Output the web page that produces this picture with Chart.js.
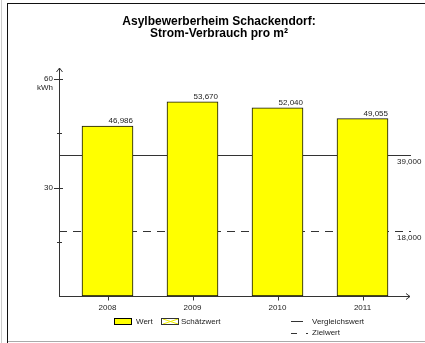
<!DOCTYPE html>
<html><head><meta charset="utf-8">
<script src="https://cdn.jsdelivr.net/npm/chart.js@4/dist/chart.umd.min.js"></script>
<style>html,body{margin:0;padding:0;background:#fff;}#wrap{position:relative;width:425px;height:343px;}</style>
</head><body><div id="wrap"><canvas id="c" width="425" height="343"></canvas></div>
<script>
const categories = ["2008", "2009", "2010", "2011"];
const values = [46.986, 53.670, 52.040, 49.055];
const valueLabels = ["46,986", "53,670", "52,040", "49,055"];
const referenceValue = 39.0;
const referenceLabel = "39,000";
const targetValue = 18.0;
const targetLabel = "18,000";
const yTicksMajor = [60, 30];
const yTicksMinor = [45, 15];
const titleLines = ["Asylbewerberheim Schackendorf:", "Strom-Verbrauch pro m²"];

const FONT = '"Liberation Sans", Arial, sans-serif';

const decor = {
  id: 'decor',
  beforeDatasetsDraw(chart) {
    const ctx = chart.ctx, y = chart.scales.y;
    ctx.save();
    ctx.strokeStyle = '#333';
    ctx.lineWidth = 1;
    let py = Math.round(y.getPixelForValue(referenceValue)) + 0.5;
    ctx.beginPath(); ctx.moveTo(59, py); ctx.lineTo(411, py); ctx.stroke();
    py = Math.round(y.getPixelForValue(targetValue)) + 0.5;
    ctx.setLineDash([8, 6]);
    ctx.beginPath(); ctx.moveTo(59, py); ctx.lineTo(411, py); ctx.stroke();
    ctx.restore();
  },
  afterDraw(chart) {
    const ctx = chart.ctx, y = chart.scales.y, x = chart.scales.x;
    ctx.save();
    // frame
    ctx.fillStyle = '#ccc'; ctx.fillRect(1, 0, 1, 343);
    ctx.fillStyle = '#111'; ctx.fillRect(7, 3, 418, 1); ctx.fillRect(7, 3, 1, 340);
    ctx.fillStyle = '#aaa'; ctx.fillRect(8, 341, 417, 1);
    // title
    ctx.fillStyle = '#000';
    ctx.font = 'bold 12px ' + FONT;
    ctx.textAlign = 'center'; ctx.textBaseline = 'middle';
    ctx.fillText(titleLines[0], 219, 22);
    ctx.fillText(titleLines[1], 219, 34);
    // axes
    const y0 = Math.round(y.getPixelForValue(0)) + 0.5;
    ctx.strokeStyle = '#333'; ctx.lineWidth = 1;
    ctx.beginPath();
    ctx.moveTo(59.5, y0); ctx.lineTo(59.5, 68);
    ctx.moveTo(59, y0); ctx.lineTo(410, y0);
    ctx.stroke();
    ctx.beginPath();
    ctx.moveTo(56.5, 72); ctx.lineTo(59.5, 68); ctx.lineTo(62.5, 72);
    ctx.moveTo(406, y0 - 3); ctx.lineTo(410, y0); ctx.lineTo(406, y0 + 3);
    ctx.stroke();
    // y ticks
    ctx.beginPath();
    yTicksMajor.forEach(v => { const p = Math.round(y.getPixelForValue(v)) + 0.5; ctx.moveTo(54, p); ctx.lineTo(63, p); });
    yTicksMinor.forEach(v => { const p = Math.round(y.getPixelForValue(v)) + 0.5; ctx.moveTo(57, p); ctx.lineTo(62, p); });
    categories.forEach((c, i) => { const p = Math.round(x.getPixelForValue(i)) + 0.5; ctx.moveTo(p, y0); ctx.lineTo(p, y0 + 4); });
    ctx.stroke();
    ctx.font = '8px ' + FONT; ctx.fillStyle = '#222';
    ctx.textAlign = 'right'; ctx.textBaseline = 'middle';
    yTicksMajor.forEach(v => ctx.fillText(String(v), 53, y.getPixelForValue(v)));
    ctx.fillText('kWh', 53, 88);
    ctx.textAlign = 'center';
    categories.forEach((c, i) => ctx.fillText(c, x.getPixelForValue(i), 308));
    // value labels
    const meta = chart.getDatasetMeta(0);
    ctx.textAlign = 'right'; ctx.textBaseline = 'bottom';
    meta.data.forEach((b, i) => ctx.fillText(valueLabels[i], b.x + b.width / 2, b.y - 1));
    // reference labels
    ctx.textAlign = 'left'; ctx.textBaseline = 'middle';
    ctx.fillText(referenceLabel, 397, y.getPixelForValue(referenceValue) + 7);
    ctx.fillText(targetLabel, 397, y.getPixelForValue(targetValue) + 7);
    // legend
    ctx.fillStyle = '#ffff00'; ctx.fillRect(114, 318, 17, 7);
    ctx.strokeStyle = '#000'; ctx.strokeRect(114.5, 318.5, 17, 6);
    ctx.fillStyle = '#fff'; ctx.fillRect(162, 318, 17, 7);
    ctx.strokeStyle = '#ee0'; ctx.lineWidth = 1;
    ctx.beginPath(); ctx.moveTo(163, 319); ctx.lineTo(178, 324); ctx.moveTo(163, 324); ctx.lineTo(178, 319); ctx.stroke();
    ctx.lineWidth = 1; ctx.strokeStyle = '#333'; ctx.strokeRect(161.5, 318.5, 17, 6);
    ctx.beginPath(); ctx.moveTo(291, 321.5); ctx.lineTo(303, 321.5);
    ctx.moveTo(291, 333.5); ctx.lineTo(297, 333.5); ctx.moveTo(306, 333.5); ctx.lineTo(308, 333.5); ctx.stroke();
    ctx.fillStyle = '#222';
    ctx.fillText('Wert', 136, 322);
    ctx.fillText('Schätzwert', 181, 322);
    ctx.fillText('Vergleichswert', 312, 322);
    ctx.fillText('Zielwert', 312, 333);
    ctx.restore();
  }
};

new Chart(document.getElementById('c'), {
  type: 'bar',
  data: {
    labels: categories,
    datasets: [{
      data: values,
      backgroundColor: '#ffff00',
      borderColor: '#111',
      borderWidth: 1,
      borderSkipped: false,
      barThickness: 51
    }]
  },
  options: {
    responsive: false,
    animation: false,
    devicePixelRatio: 1,
    layout: { padding: { left: 65, right: 20, top: 79, bottom: 47 } },
    plugins: { legend: { display: false }, title: { display: false }, tooltip: { enabled: false } },
    scales: {
      x: { display: false, offset: true, grid: { display: false } },
      y: { display: false, min: 0, max: 60 }
    }
  },
  plugins: [decor]
});
</script></body></html>
